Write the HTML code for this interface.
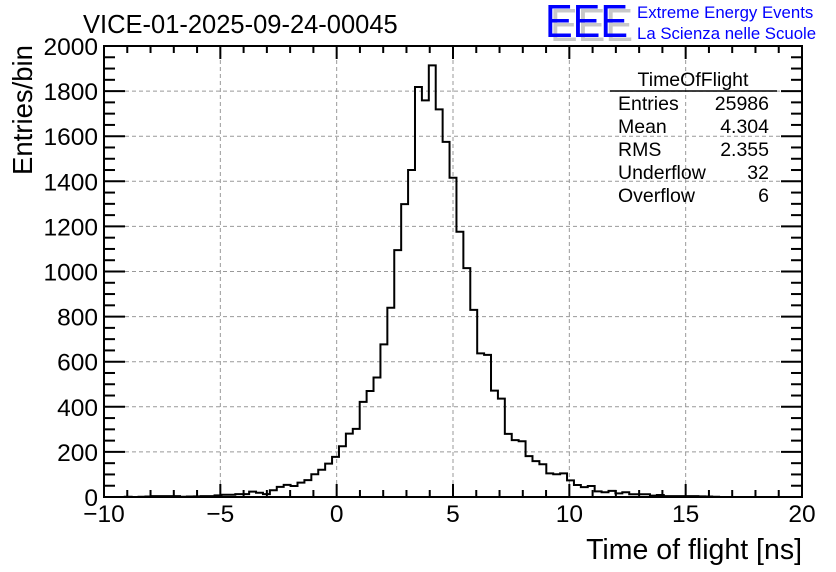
<!DOCTYPE html>
<html><head><meta charset="utf-8"><style>
html,body{margin:0;padding:0;background:#fff;}
svg{display:block;font-family:"Liberation Sans",sans-serif;}
</style></head><body>
<svg id="chart" width="836" height="572" viewBox="0 0 836 572" xmlns="http://www.w3.org/2000/svg">
<rect x="0" y="0" width="836" height="572" fill="#fff"/>
<g id="grid"></g>
<path id="hist" fill="none" stroke="#000" stroke-width="2"/>
<g id="axes"></g>
<text x="83" y="33" font-size="25.5">VICE-01-2025-09-24-00045</text>
<text transform="translate(32,110) rotate(-90)" text-anchor="middle" font-size="27.5">Entries/bin</text>
<text x="802" y="559" text-anchor="end" font-size="28.5">Time of flight [ns]</text>
<g>
<text x="550" y="41" font-size="46" fill="#c8c8c8" textLength="83" lengthAdjust="spacingAndGlyphs">EEE</text>
<text x="545" y="37" font-size="46" fill="#0000ff" textLength="83" lengthAdjust="spacingAndGlyphs">EEE</text>
<text x="637" y="18" font-size="16.8" fill="#0000ff">Extreme Energy Events</text>
<text x="637" y="39" font-size="16.8" fill="#0000ff">La Scienza nelle Scuole</text>
</g>
<g font-size="19.5">
<text x="693" y="86" text-anchor="middle">TimeOfFlight</text>
<line x1="610" y1="91" x2="777" y2="91" stroke="#000" stroke-width="1.5"/>
<text x="618" y="110">Entries</text><text x="769" y="110" text-anchor="end">25986</text>
<text x="618" y="133">Mean</text><text x="769" y="133" text-anchor="end">4.304</text>
<text x="618" y="156">RMS</text><text x="769" y="156" text-anchor="end">2.355</text>
<text x="618" y="179">Underflow</text><text x="769" y="179" text-anchor="end">32</text>
<text x="618" y="202">Overflow</text><text x="769" y="202" text-anchor="end">6</text>
</g>
</svg>
<script>
const binEdges = [-10, 20];
const counts = [0,0,0,1,0,1,2,4,4,4,4,1,2,3,4,4,7,10,10,13,13,24,19,13,30,45,54,49,64,75,101,121,148,178,225,281,302,422,470,530,677,839,1095,1299,1450,1818,1759,1914,1719,1575,1416,1176,1015,830,637,630,472,436,280,252,247,181,159,145,105,101,105,74,53,44,49,25,21,27,16,21,12,12,12,6,9,4,4,4,4,4,3,2,1,0,0,0,0,0,0,0,0,0,0,0,0];
const xTicks = [-10,-5,0,5,10,15,20];
const yTicks = [0,200,400,600,800,1000,1200,1400,1600,1800,2000];
const X0=104,X1=802,Y0=497,Y1=46;
const xs=v=>X0+(v-binEdges[0])/(binEdges[1]-binEdges[0])*(X1-X0);
const ys=v=>Y0-v/2000*(Y0-Y1);
const NS="http://www.w3.org/2000/svg";
function mk(tag,attrs,parent){const e=document.createElementNS(NS,tag);for(const k in attrs)e.setAttribute(k,attrs[k]);parent.appendChild(e);return e;}
const grid=document.getElementById('grid'),axes=document.getElementById('axes');
xTicks.forEach(t=>{if(t>binEdges[0]&&t<binEdges[1]){const l=mk('line',{x1:xs(t),x2:xs(t),y1:Y1,y2:Y0,stroke:'#999','stroke-dasharray':'4,3','stroke-width':1},grid);

}});
yTicks.forEach(t=>{if(t>0&&t<2000){const l=mk('line',{x1:X0,x2:X1,y1:ys(t),y2:ys(t),stroke:'#999','stroke-dasharray':'4,3','stroke-width':1},grid);

}});
const n=counts.length,w=(binEdges[1]-binEdges[0])/n;
let d='M'+xs(binEdges[0])+','+ys(counts[0]);
counts.forEach((c,i)=>{const a=binEdges[0]+i*w,b=a+w;d+='L'+xs(a)+','+ys(c)+'L'+xs(b)+','+ys(c);});
document.getElementById('hist').setAttribute('d',d);
const fr=mk('rect',{x:X0,y:Y1,width:X1-X0,height:Y0-Y1,fill:'none',stroke:'#000','stroke-width':2},axes);


for(let v=binEdges[0];v<=binEdges[1];v++){const maj=v%5===0,L=maj?13:7;
mk('line',{x1:xs(v),x2:xs(v),y1:Y0,y2:Y0-L,stroke:'#000','stroke-width':2},axes);
mk('line',{x1:xs(v),x2:xs(v),y1:Y1,y2:Y1+L,stroke:'#000','stroke-width':2},axes);}
for(let v=0;v<=2000;v+=50){const maj=v%200===0,L=maj?21:11;
mk('line',{x1:X0,x2:X0+L,y1:ys(v),y2:ys(v),stroke:'#000','stroke-width':2},axes);
mk('line',{x1:X1,x2:X1-L,y1:ys(v),y2:ys(v),stroke:'#000','stroke-width':2},axes);}
xTicks.forEach(t=>{const e=mk('text',{x:xs(t),y:522,'text-anchor':'middle','font-size':24.5},axes);e.textContent=(t<0?'\u2212'+(-t):t);

});
yTicks.forEach(t=>{const e=mk('text',{x:98,y:ys(t)+9,'text-anchor':'end','font-size':24.5},axes);e.textContent=t;

});
</script>
</body></html>
